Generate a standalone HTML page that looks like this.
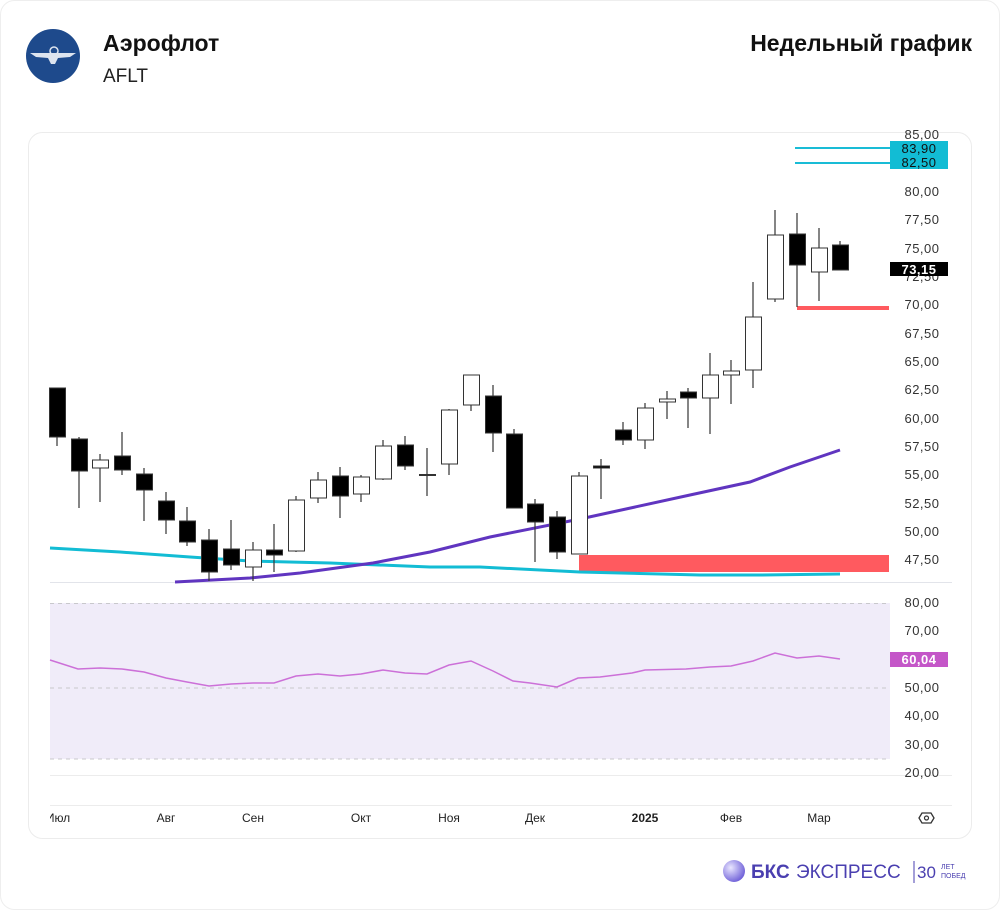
<!DOCTYPE html>
<html><head><meta charset="utf-8"><style>
html,body{margin:0;padding:0;background:#fff;}
body{width:1000px;height:910px;position:relative;overflow:hidden;font-family:"Liberation Sans","DejaVu Sans",sans-serif;}
</style></head><body>
<svg width="1000" height="910" viewBox="0 0 1000 910" xmlns="http://www.w3.org/2000/svg" style="position:absolute;left:0;top:0">
<rect x="0.5" y="0.5" width="999" height="909" rx="14" fill="#fff" stroke="#eeeeee"/>
<circle cx="53" cy="56" r="27" fill="#1e4a8c"/>
<path d="M30 53 L76 53 L70 57 L58 58 L55 64 L51 64 L48 58 L36 57 Z" fill="#dde4ef"/>
<circle cx="54" cy="51" r="4" fill="none" stroke="#dde4ef" stroke-width="1.5"/>
<text x="103" y="51" font-size="23" font-weight="bold" fill="#111">Аэрофлот</text>
<text x="103" y="82" font-size="19" fill="#222">AFLT</text>
<text x="972" y="51" font-size="23" font-weight="bold" fill="#111" text-anchor="end">Недельный график</text>
<rect x="28.5" y="132.5" width="943" height="706" rx="14" fill="#fff" stroke="#ececec"/>
<line x1="50" y1="582.5" x2="952" y2="582.5" stroke="#e2e4ea"/>
<line x1="50" y1="775.5" x2="952" y2="775.5" stroke="#ececec"/>
<line x1="50" y1="805.5" x2="952" y2="805.5" stroke="#ececec"/>
<rect x="50" y="603" width="840" height="156" fill="#f0ecf9"/>
<g stroke="#c8c8cc" stroke-dasharray="4,4" stroke-width="1">
<line x1="50" y1="603.5" x2="890" y2="603.5"/><line x1="50" y1="688" x2="890" y2="688"/><line x1="50" y1="759" x2="890" y2="759"/></g>
<polyline fill="none" stroke="#cc70d8" stroke-width="1.5" points="50,660 78,669 100,668 122,669 144,672 166,678 187,682 209,686 231,684 253,683 274,683 296,676 318,674 340,676 361,674 383,670 405,673 427,674 449,665 471,661 493,671 513,681 530,683 557,687 578,678 600,677 632,673 645,670 686,669 710,667 731,666 753,661 775,653 797,658 819,656 840,659"/>
<rect x="579" y="555" width="310" height="17" fill="#ff5a5f"/>
<rect x="797" y="306" width="92" height="4" fill="#ff5a5f"/>
<line x1="795" y1="148" x2="890" y2="148" stroke="#19bcd6" stroke-width="2"/>
<line x1="795" y1="163" x2="890" y2="163" stroke="#19bcd6" stroke-width="2"/>
<polyline fill="none" stroke="#12bcd4" stroke-width="3" points="50,548 120,552 190,557 250,561 330,563 430,567 480,567 580,572 700,575 760,575 840,574"/>
<polyline fill="none" stroke="#6035c0" stroke-width="3" points="175,582 250,578 300,573 373,563 430,552 490,537 580,519 690,495 750,482 790,467 840,450"/>
<g stroke="#333" stroke-width="1.2">
<line x1="57" y1="388" x2="57" y2="446"/><line x1="79" y1="437" x2="79" y2="508"/><line x1="100" y1="454" x2="100" y2="502"/><line x1="122" y1="432" x2="122" y2="475"/><line x1="144" y1="468" x2="144" y2="521"/><line x1="166" y1="492" x2="166" y2="534"/><line x1="187" y1="507" x2="187" y2="546"/><line x1="209" y1="529" x2="209" y2="581"/><line x1="231" y1="520" x2="231" y2="570"/><line x1="253" y1="542" x2="253" y2="581"/><line x1="274" y1="524" x2="274" y2="572"/><line x1="296" y1="496" x2="296" y2="552"/><line x1="318" y1="472" x2="318" y2="503"/><line x1="340" y1="467" x2="340" y2="518"/><line x1="361" y1="475" x2="361" y2="502"/><line x1="383" y1="440" x2="383" y2="480"/><line x1="405" y1="436" x2="405" y2="470"/><line x1="427" y1="448" x2="427" y2="496"/><line x1="449" y1="409" x2="449" y2="475"/><line x1="471" y1="375" x2="471" y2="411"/><line x1="493" y1="385" x2="493" y2="452"/><line x1="514" y1="429" x2="514" y2="508"/><line x1="535" y1="499" x2="535" y2="562"/><line x1="557" y1="511" x2="557" y2="559"/><line x1="579" y1="472" x2="579" y2="554"/><line x1="601" y1="459" x2="601" y2="499"/><line x1="623" y1="422" x2="623" y2="445"/><line x1="645" y1="403" x2="645" y2="449"/><line x1="667" y1="391" x2="667" y2="419"/><line x1="688" y1="388" x2="688" y2="428"/><line x1="710" y1="353" x2="710" y2="434"/><line x1="731" y1="360" x2="731" y2="404"/><line x1="753" y1="282" x2="753" y2="388"/><line x1="775" y1="210" x2="775" y2="302"/><line x1="797" y1="213" x2="797" y2="307"/><line x1="819" y1="228" x2="819" y2="301"/><line x1="840" y1="241" x2="840" y2="270"/>
</g>
<g stroke="#333" stroke-width="1">
<rect x="49.5" y="388" width="16" height="49" fill="#000"/>
<rect x="71.5" y="439" width="16" height="32" fill="#000"/>
<rect x="92.5" y="460" width="16" height="8" fill="#fff"/>
<rect x="114.5" y="456" width="16" height="14" fill="#000"/>
<rect x="136.5" y="474" width="16" height="16" fill="#000"/>
<rect x="158.5" y="501" width="16" height="19" fill="#000"/>
<rect x="179.5" y="521" width="16" height="21" fill="#000"/>
<rect x="201.5" y="540" width="16" height="32" fill="#000"/>
<rect x="223.5" y="549" width="16" height="16" fill="#000"/>
<rect x="245.5" y="550" width="16" height="17" fill="#fff"/>
<rect x="266.5" y="550" width="16" height="5" fill="#000"/>
<rect x="288.5" y="500" width="16" height="51" fill="#fff"/>
<rect x="310.5" y="480" width="16" height="18" fill="#fff"/>
<rect x="332.5" y="476" width="16" height="20" fill="#000"/>
<rect x="353.5" y="477" width="16" height="17" fill="#fff"/>
<rect x="375.5" y="446" width="16" height="33" fill="#fff"/>
<rect x="397.5" y="445" width="16" height="21" fill="#000"/>
<rect x="419.5" y="474.5" width="16" height="1" fill="#000"/>
<rect x="441.5" y="410" width="16" height="54" fill="#fff"/>
<rect x="463.5" y="375" width="16" height="30" fill="#fff"/>
<rect x="485.5" y="396" width="16" height="37" fill="#000"/>
<rect x="506.5" y="434" width="16" height="74" fill="#000"/>
<rect x="527.5" y="504" width="16" height="18" fill="#000"/>
<rect x="549.5" y="517" width="16" height="35" fill="#000"/>
<rect x="571.5" y="476" width="16" height="78" fill="#fff"/>
<rect x="593.5" y="466" width="16" height="2" fill="#000"/>
<rect x="615.5" y="430" width="16" height="10" fill="#000"/>
<rect x="637.5" y="408" width="16" height="32" fill="#fff"/>
<rect x="659.5" y="399" width="16" height="3" fill="#fff"/>
<rect x="680.5" y="392" width="16" height="6" fill="#000"/>
<rect x="702.5" y="375" width="16" height="23" fill="#fff"/>
<rect x="723.5" y="371" width="16" height="4" fill="#fff"/>
<rect x="745.5" y="317" width="16" height="53" fill="#fff"/>
<rect x="767.5" y="235" width="16" height="64" fill="#fff"/>
<rect x="789.5" y="234" width="16" height="31" fill="#000"/>
<rect x="811.5" y="248" width="16" height="24" fill="#fff"/>
<rect x="832.5" y="245" width="16" height="25" fill="#000"/>
</g>
<g font-size="13" fill="#333" text-anchor="middle" letter-spacing="0.5">
<text x="922" y="139">85,00</text><text x="922" y="196">80,00</text><text x="922" y="224">77,50</text><text x="922" y="253">75,00</text><text x="922" y="281">72,50</text><text x="922" y="309">70,00</text><text x="922" y="338">67,50</text><text x="922" y="366">65,00</text><text x="922" y="394">62,50</text><text x="922" y="423">60,00</text><text x="922" y="451">57,50</text><text x="922" y="479">55,00</text><text x="922" y="508">52,50</text><text x="922" y="536">50,00</text><text x="922" y="564">47,50</text>
<text x="922" y="607">80,00</text><text x="922" y="635">70,00</text><text x="922" y="692">50,00</text><text x="922" y="720">40,00</text><text x="922" y="749">30,00</text><text x="922" y="777">20,00</text>
</g>
<rect x="890" y="141" width="58" height="14" fill="#12bcd4"/>
<rect x="890" y="155" width="58" height="14" fill="#12bcd4"/>
<rect x="890" y="262" width="58" height="14" fill="#000"/>
<rect x="890" y="652" width="58" height="15" fill="#c456c8"/>
<g font-size="13" text-anchor="middle" letter-spacing="0.5">
<text x="919" y="153" fill="#111">83,90</text><text x="919" y="167" fill="#111">82,50</text>
<text x="919" y="274" fill="#fff" font-weight="bold">73,15</text>
<text x="919" y="664" fill="#fff" font-weight="bold">60,04</text>
</g>
<defs><clipPath id="c"><rect x="50" y="800" width="900" height="40"/></clipPath></defs>
<g font-size="12" fill="#222" text-anchor="middle">
<text x="58" y="822" clip-path="url(#c)">Июл</text><text x="166" y="822">Авг</text><text x="253" y="822">Сен</text><text x="361" y="822">Окт</text><text x="449" y="822">Ноя</text><text x="535" y="822">Дек</text><text x="645" y="822" font-weight="bold">2025</text><text x="731" y="822">Фев</text><text x="819" y="822">Мар</text>
</g>
<path d="M919 818 L922 813 L931 813 L934 818 L931 823 L922 823 Z" fill="none" stroke="#333" stroke-width="1.3"/>
<circle cx="926.5" cy="818" r="2" fill="none" stroke="#333" stroke-width="1.2"/>
<defs><radialGradient id="g" cx="0.35" cy="0.35" r="0.7"><stop offset="0" stop-color="#e9e6ff"/><stop offset="1" stop-color="#6e5fd8"/></radialGradient></defs>
<circle cx="734" cy="871" r="11" fill="url(#g)"/>
<text x="751" y="878" font-size="19" font-weight="bold" fill="#4a3fb0">БКС</text>
<text x="796" y="878" font-size="19" fill="#4a3fb0">ЭКСПРЕСС</text>
<line x1="914" y1="861" x2="914" y2="883" stroke="#4a3fb0" stroke-width="1"/>
<text x="917" y="878" font-size="17" fill="#4a3fb0">30</text>
<text x="941" y="869" font-size="7" fill="#4a3fb0">ЛЕТ</text>
<text x="941" y="878" font-size="7" fill="#4a3fb0">ПОБЕД</text>
</svg>
</body></html>
